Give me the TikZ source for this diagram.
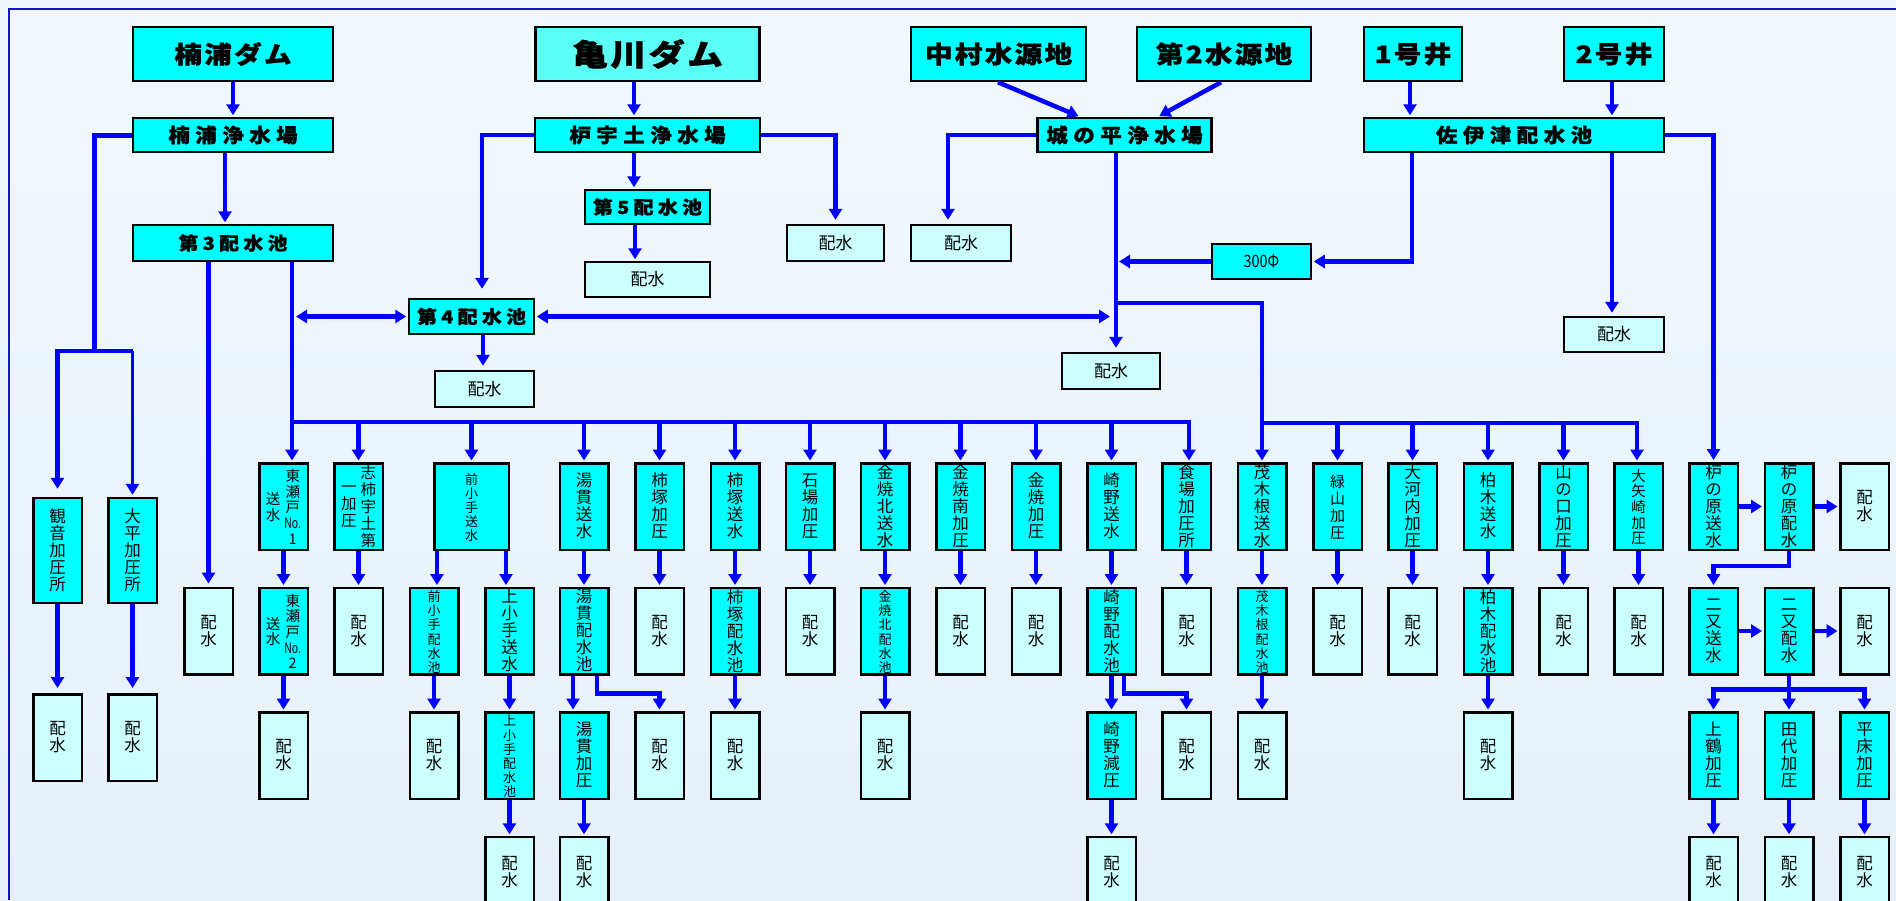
\documentclass[tikz,border=0pt]{standalone}
\usepackage{fontspec}
\usepackage{graphicx}
\newfontfamily\jp{Noto Sans CJK JP}
\newfontfamily\jpB{Noto Sans CJK JP}[BoldFeatures={FakeBold=1.2}]
\usetikzlibrary{arrows.meta,calc}
\definecolor{cyA}{RGB}{0,255,255}
\definecolor{cyK}{RGB}{92,255,245}
\definecolor{cyL}{RGB}{204,255,255}
\definecolor{lnc}{RGB}{0,0,255}
\definecolor{frm}{RGB}{20,20,200}
\definecolor{bgT}{RGB}{242,249,254}
\definecolor{bgB}{RGB}{230,240,248}
\newdimen\lskern
\def\lspEnd{LSPEND}
\def\lsp#1{\kern-\lskern\lspA#1\lspEnd}
\def\lspA#1{\ifx#1\lspEnd\else\kern\lskern\relax#1\expandafter\lspA\fi}
\newcommand\TTL[3]{\scalebox{#1}[1]{\lskern=#2\relax\lsp{#3}}}
\newcommand\VT[1]{$\vcenter{\lineskiplimit=-\maxdimen\lineskip=0pt\let\\\cr\halign{\hfil##\hfil\cr#1\crcr}}$}
\newcommand\HSW{\VT{配\\水}}
\begin{document}
\begin{tikzpicture}[x=1pt,y=-1pt,
 lnw/.style={draw=lnc, line width=4.5pt},
 ar/.style={lnw, -{Triangle[length=11pt,width=13pt]}, shorten >=1.5pt},
 dar/.style={lnw, {Triangle[length=11pt,width=13pt]}-{Triangle[length=11pt,width=13pt]}, shorten >=1.5pt},
 bx/.style={draw=black, line width=2.5pt, inner sep=0pt, align=center, text=black},
 cy/.style={bx, fill=cyA},
 lc/.style={bx, fill=cyL},
 tfix/.style={text height=30pt, text depth=22pt},
 vb/.style={tfix, minimum width=48.5pt, minimum height=86.5pt},
 v4/.style={tfix, minimum width=48.5pt, minimum height=70pt},
 fN/.style={font=\jp\fontsize{16.5}{17}\selectfont},
 fM/.style={font=\jp\fontsize{14.5}{15.6}\selectfont},
 fS/.style={font=\jp\fontsize{13}{14.2}\selectfont},
 fH/.style={font=\jp\fontsize{17}{17}\selectfont},
 fT/.style={font=\jpB\bfseries\fontsize{24}{24}\selectfont},
 fP/.style={font=\jpB\bfseries\fontsize{19.5}{19.5}\selectfont},
 fR/.style={font=\jpB\bfseries\fontsize{18}{18}\selectfont},
]
\useasboundingbox (0,0) rectangle (1896,900);
\clip (0,0) rectangle (1896,900);
\shade[top color=bgT, bottom color=bgB] (0,0) rectangle (1896,900);
\draw[frm, line width=1.3pt] (9,900) -- (9,9) -- (1896,9);

% ---------- top titles
\node[cy,fT,minimum width=200pt,minimum height=54pt] (kd) at (233,54) {\TTL{1.15}{2pt}{楠浦ダム}};
\node[bx,fill=cyK,font=\jpB\bfseries\fontsize{30}{30}\selectfont,minimum width=224pt,minimum height=54pt] (kw) at (647.5,54) {\TTL{1.2}{2pt}{亀川ダム}};
\node[cy,fT,minimum width=175pt,minimum height=54pt] (nk) at (998.5,54) {\TTL{1.15}{2pt}{中村水源地}};
\node[cy,fT,minimum width=174pt,minimum height=54pt] (src2) at (1224,54) {\TTL{1.15}{2pt}{第2水源地}};
\node[cy,fT,minimum width=98pt,minimum height=54pt] (w1) at (1413,54) {\TTL{1.15}{2pt}{1号井}};
\node[cy,fT,minimum width=100pt,minimum height=54pt] (w2) at (1614,54) {\TTL{1.15}{2pt}{2号井}};

% ---------- plants
\node[cy,fP,minimum width=200pt,minimum height=34pt] (p1) at (233,135) {\TTL{1.1}{5pt}{楠浦浄水場}};
\node[cy,fP,minimum width=225pt,minimum height=34pt] (p2) at (647.5,135) {\TTL{1.1}{5pt}{枦宇土浄水場}};
\node[cy,fP,minimum width=174pt,minimum height=34pt] (p3) at (1124.5,135) {\TTL{1.1}{5pt}{城の平浄水場}};
\node[cy,fP,minimum width=300pt,minimum height=34pt] (sa) at (1514,135) {\TTL{1.1}{5pt}{佐伊津配水池}};

% ---------- reservoirs and small boxes
\node[cy,fR,minimum width=200pt,minimum height=36pt] (r3) at (233,243) {\TTL{1.1}{4pt}{第3配水池}};
\node[cy,fR,minimum width=125pt,minimum height=34pt] (r5) at (647.5,207) {\TTL{1.1}{4pt}{第5配水池}};
\node[cy,fR,minimum width=125pt,minimum height=35pt] (r4) at (471.5,316.5) {\TTL{1.1}{4pt}{第4配水池}};
\node[lc,fH,minimum width=125pt,minimum height=35pt] (d5) at (647.5,279.5) {配水};
\node[lc,fH,minimum width=97pt,minimum height=36pt] (dA) at (835.5,243) {配水};
\node[lc,fH,minimum width=100pt,minimum height=36pt] (dB) at (961,243) {配水};
\node[cy,fH,minimum width=99pt,minimum height=35pt] (ph) at (1261.5,261.5) {\scalebox{0.85}[1]{300Φ}};
\node[lc,fH,minimum width=99pt,minimum height=36pt] (d4) at (484.5,389) {配水};
\node[lc,fH,minimum width=98pt,minimum height=36pt] (dC) at (1111,371) {配水};
\node[lc,fH,minimum width=100pt,minimum height=35pt] (dD) at (1614,334.5) {配水};

% ---------- left column
\node[cy,fN,tfix,minimum width=48.5pt,minimum height=105pt] (kn) at (57.5,550.5) {\VT{観\\音\\加\\圧\\所}};
\node[cy,fN,tfix,minimum width=48.5pt,minimum height=105pt] (tp) at (132.5,550.5) {\VT{大\\平\\加\\圧\\所}};
\node[lc,fN,vb] (kn2) at (57.5,737.5) {\HSW};
\node[lc,fN,vb] (tp2) at (132.5,737.5) {\HSW};
\node[lc,fN,vb] (d3) at (208.5,631) {\HSW};

% ---------- row 1
\node[cy,fM,vb] (A1) at (283.5,506.5) {\VT{送\\水}\hspace{4pt}\VT{東\\瀬\\戸\\\scalebox{0.72}[1]{No.}\\1}};
\node[cy,font=\jp\fontsize{15.5}{17}\selectfont,vb] (B1) at (358.5,506.5) {\VT{一\\加\\圧}\hspace{4pt}\VT{志\\柿\\宇\\土\\第}};
\node[cy,fS,tfix,minimum width=74.5pt,minimum height=86.5pt] (C1) at (471.5,506.5) {\VT{前\\小\\手\\送\\水}};
\node[cy,fN,vb] (D1) at (584,506.5) {\VT{湯\\貫\\送\\水}};
\node[cy,fN,vb] (E1) at (659.5,506.5) {\VT{柿\\塚\\加\\圧}};
\node[cy,fN,vb] (F1) at (735,506.5) {\VT{柿\\塚\\送\\水}};
\node[cy,fN,vb] (G1) at (810,506.5) {\VT{石\\場\\加\\圧}};
\node[cy,fN,vb] (H1) at (885,506.5) {\VT{金\\焼\\北\\送\\水}};
\node[cy,fN,vb] (I1) at (960.5,506.5) {\VT{金\\焼\\南\\加\\圧}};
\node[cy,fN,vb] (J1) at (1036,506.5) {\VT{金\\焼\\加\\圧}};
\node[cy,fN,vb] (K1) at (1111.5,506.5) {\VT{崎\\野\\送\\水}};
\node[cy,fN,vb] (L1) at (1186.5,506.5) {\VT{食\\場\\加\\圧\\所}};
\node[cy,fN,vb] (M1) at (1262,506.5) {\VT{茂\\木\\根\\送\\水}};
\node[cy,font=\jp\fontsize{15}{17}\selectfont,vb] (N1) at (1337.5,506.5) {\VT{緑\\山\\加\\圧}};
\node[cy,fN,vb] (O1) at (1412.5,506.5) {\VT{大\\河\\内\\加\\圧}};
\node[cy,fN,vb] (P1) at (1488,506.5) {\VT{柏\\木\\送\\水}};
\node[cy,fN,vb] (Q1) at (1563.5,506.5) {\VT{山\\の\\口\\加\\圧}};
\node[cy,fM,vb] (R1) at (1638.5,506.5) {\VT{大\\矢\\崎\\加\\圧}};
\node[cy,fN,vb] (S1) at (1713.5,506.5) {\VT{枦\\の\\原\\送\\水}};
\node[cy,fN,vb] (T1) at (1789,506.5) {\VT{枦\\の\\原\\配\\水}};
\node[lc,fN,vb] (U1) at (1864.5,506.5) {\HSW};

% ---------- row 2
\node[cy,fM,vb] (A2) at (283.5,631) {\VT{送\\水}\hspace{4pt}\VT{東\\瀬\\戸\\\scalebox{0.72}[1]{No.}\\2}};
\node[lc,fN,vb] (B2) at (358.5,631) {\HSW};
\node[cy,fS,vb] (C2l) at (434,631) {\VT{前\\小\\手\\配\\水\\池}};
\node[cy,fN,vb] (C2r) at (509.5,631) {\VT{上\\小\\手\\送\\水}};
\node[cy,fN,vb] (D2) at (584,631) {\VT{湯\\貫\\配\\水\\池}};
\node[lc,fN,vb] (E2) at (659.5,631) {\HSW};
\node[cy,fN,vb] (F2) at (735,631) {\VT{柿\\塚\\配\\水\\池}};
\node[lc,fN,vb] (G2) at (810,631) {\HSW};
\node[cy,fS,vb] (H2) at (885,631) {\VT{金\\焼\\北\\配\\水\\池}};
\node[lc,fN,vb] (I2) at (960.5,631) {\HSW};
\node[lc,fN,vb] (J2) at (1036,631) {\HSW};
\node[cy,fN,vb] (K2) at (1111.5,631) {\VT{崎\\野\\配\\水\\池}};
\node[lc,fN,vb] (L2) at (1186.5,631) {\HSW};
\node[cy,fS,vb] (M2) at (1262,631) {\VT{茂\\木\\根\\配\\水\\池}};
\node[lc,fN,vb] (N2) at (1337.5,631) {\HSW};
\node[lc,fN,vb] (O2) at (1412.5,631) {\HSW};
\node[cy,fN,vb] (P2) at (1488,631) {\VT{柏\\木\\配\\水\\池}};
\node[lc,fN,vb] (Q2) at (1563.5,631) {\HSW};
\node[lc,fN,vb] (R2) at (1638.5,631) {\HSW};
\node[cy,fN,vb] (S2) at (1713.5,631) {\VT{二\\又\\送\\水}};
\node[cy,fN,vb] (T2) at (1789,631) {\VT{二\\又\\配\\水}};
\node[lc,fN,vb] (U2) at (1864.5,631) {\HSW};

% ---------- row 3
\node[lc,fN,vb] (A3) at (283.5,755.5) {\HSW};
\node[lc,fN,vb] (C3l) at (434,755.5) {\HSW};
\node[cy,fS,vb] (C3r) at (509.5,755.5) {\VT{上\\小\\手\\配\\水\\池}};
\node[cy,fN,vb] (D3) at (584,755.5) {\VT{湯\\貫\\加\\圧}};
\node[lc,fN,vb] (E3) at (659.5,755.5) {\HSW};
\node[lc,fN,vb] (F3) at (735,755.5) {\HSW};
\node[lc,fN,vb] (H3) at (885,755.5) {\HSW};
\node[cy,fN,vb] (K3) at (1111.5,755.5) {\VT{崎\\野\\減\\圧}};
\node[lc,fN,vb] (L3) at (1186.5,755.5) {\HSW};
\node[lc,fN,vb] (M3) at (1262,755.5) {\HSW};
\node[lc,fN,vb] (P3) at (1488,755.5) {\HSW};
\node[cy,fN,vb] (S3) at (1713.5,755.5) {\VT{上\\鶴\\加\\圧}};
\node[cy,fN,vb] (T3) at (1789,755.5) {\VT{田\\代\\加\\圧}};
\node[cy,fN,vb] (U3) at (1864.5,755.5) {\VT{平\\床\\加\\圧}};

% ---------- row 4
\node[lc,fN,v4] (C4r) at (509.5,872) {\HSW};
\node[lc,fN,v4] (D4) at (584,872) {\HSW};
\node[lc,fN,v4] (K4) at (1111.5,872) {\HSW};
\node[lc,fN,v4] (S4) at (1713.5,872) {\HSW};
\node[lc,fN,v4] (T4) at (1789,872) {\HSW};
\node[lc,fN,v4] (U4) at (1864.5,872) {\HSW};

% ---------- coordinates
\coordinate (kb) at (94,351);
\coordinate (b1s) at (292,422);
\coordinate (b1e) at (1189,422);
\coordinate (br) at (1116,303);
\coordinate (b2s) at (1262,423);
\coordinate (b2e) at (1637,423);

% ---------- top connectors
\draw[ar] (kd.south) -- (p1.north);
\draw[ar] (p1.south -| 225,0) -- (r3.north -| 225,0);
\draw[ar] (kw.south -| 634,0) -- (p2.north -| 634,0);
\draw[ar] (p2.south -| 634,0) -- (r5.north -| 634,0);
\draw[ar] (r5.south -| 635,0) -- (d5.north -| 635,0);
\draw[ar] (nk.south -| 998,0) -- (p3.north -| 1080,0);
\draw[ar] (src2.south -| 1221,0) -- (p3.north -| 1158,0);
\draw[ar] (w1.south -| 1410,0) -- (sa.north -| 1410,0);
\draw[ar] (w2.south -| 1612,0) -- (sa.north -| 1612,0);

% Kusuura branch
\draw[lnw, line width=5pt] (p1.west) -| (kb);
\draw[ar, shorten >=8pt] (tp.north |- kb) -- (kn.north |- kb) -- (kn.north);
\draw[ar, line width=3pt, shorten >=2pt] (tp.north |- kb) -- (tp.north);
\draw[ar, shorten >=5pt] (kn.south) -- (kn2.north);
\draw[ar, shorten >=5pt] (tp.south) -- (tp2.north);

% reservoir 3
\draw[ar, shorten >=3pt] (r3.south -| d3.north) -- (d3.north);
\draw[ar] (r3.south -| b1s) -- (A1.north -| b1s);
\draw[ar] (b1s) -- (b1e) -- (L1.north -| b1e);
\foreach \nm in {B1,C1,D1,E1,F1,G1,H1,I1,J1,K1}
  \draw[ar] (\nm.north |- b1s) -- (\nm.north);

% reservoir 4
\draw[dar, shorten <=4pt] (r4.west -| b1s) -- (r4.west);
\draw[dar, shorten <=1.5pt, shorten >=6pt] (r4.east) -- (r4.east -| br);
\draw[ar, shorten >=4pt] (r4.south -| 483,0) -- (d4.north -| 483,0);
\draw[ar, shorten >=9pt] (p2.west) -| (r4.north -| 482,0);
\draw[ar, shorten >=4pt] (p2.east) -| (dA.north);

% Jonohira
\draw[ar, shorten >=4pt] (p3.west) -| (dB.north -| 948,0);
\draw[ar, shorten >=4pt] (p3.south -| br) -- (dC.north -| br);
\draw[ar] (sa.south -| 1412,0) |- (ph.east);
\draw[ar, shorten >=3pt] (ph.west) -- (ph.west -| br);
\draw[ar] (br) -| (M1.north);
\draw[ar] (b2s) -- (b2e) -- (R1.north -| b2e);
\foreach \nm in {N1,O1,P1,Q1}
  \draw[ar] (\nm.north |- b2s) -- (\nm.north);

% Saitsu
\draw[ar, shorten >=3pt] (sa.south -| 1612,0) -- (dD.north -| 1612,0);
\draw[ar, shorten >=2pt] (sa.east) -| (S1.north);

% row 1 -> row 2
\foreach \nm in {A,B,D,E,F,G,H,I,J,K,L,M,N,O,P,Q,R}
  \draw[ar] (\nm1.south) -- (\nm2.north);
\draw[ar] (C1.south -| 437,0) -- (C2l.north -| 437,0);
\draw[ar] (C1.south -| 506,0) -- (C2r.north -| 506,0);

% row 2 -> row 3
\foreach \nm in {A,F,H,K,M,P}
  \draw[ar] (\nm2.south) -- (\nm3.north);
\draw[ar] (C2l.south) -- (C3l.north);
\draw[ar] (C2r.south) -- (C3r.north);
\draw[ar] (D2.south -| 573,0) -- (D3.north -| 573,0);
\draw[ar] ([xshift=13pt]D2.south) -- ++(0,18) -| (E3.north);
\draw[ar] ([xshift=12.5pt]K2.south) -- ++(0,18) -| (L3.north);

% row 3 -> row 4
\draw[ar] (C3r.south) -- (C4r.north);
\draw[ar] (D3.south) -- (D4.north);
\draw[ar] (K3.south) -- (K4.north);
\draw[ar] (S3.south) -- (S4.north);
\draw[ar] (T3.south) -- (T4.north);
\draw[ar] (U3.south) -- (U4.north);

% right cluster
\draw[ar] (S1.east) -- (T1.west);
\draw[ar] (T1.east) -- (U1.west);
\draw[ar] (T1.south) -- ++(0,15) -| (S2.north);
\draw[ar] (S2.east) -- (T2.west);
\draw[ar] (T2.east) -- (U2.west);
\draw[ar] (T2.south) -- ++(0,14) coordinate (tb) -| (S3.north);
\draw[ar] (tb) -| (U3.north);
\draw[ar] (tb) -- (T3.north);
\end{tikzpicture}
\end{document}
